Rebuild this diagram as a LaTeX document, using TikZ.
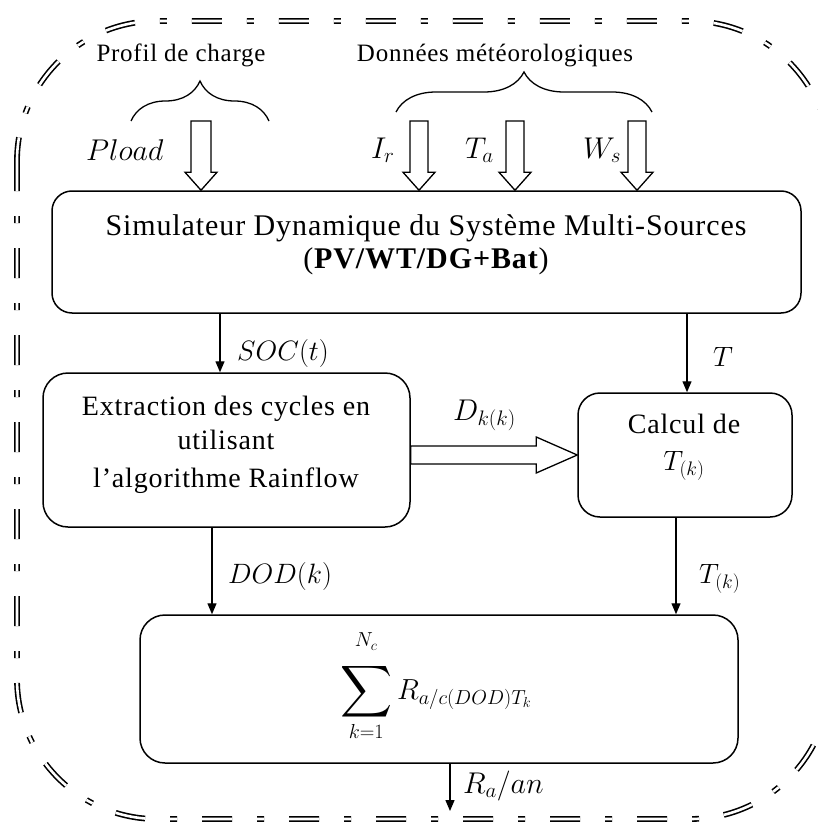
\RequirePackage{fix-cm}
\documentclass[tikz,border=0pt]{standalone}
\usepackage{amsmath}
\usepackage{fontspec}
\setmainfont{Liberation Serif}[LetterSpace=3]
\usetikzlibrary{arrows.meta,calc,decorations.pathreplacing}

% vertical hollow block arrow from #1 down to #2 (shaft half width #3, head half width #4)
\newcommand\vblock[4]{%
  \draw[blockarrow] let \p1=(#1), \p2=(#2) in
    (\x1-#3,\y1) -- (\x1-#3,\y2+18pt) -- (\x1-#4,\y2+18pt) -- (\x1,\y2)
    -- (\x1+#4,\y2+18pt) -- (\x1+#3,\y2+18pt) -- (\x1+#3,\y1) -- cycle;}

\tikzset{
  box/.style={draw, line width=1.5pt, rounded corners=20pt, inner sep=0pt},
  conn/.style={line width=1.3pt, -{Triangle[length=11pt,width=9pt]}},
  blockarrow/.style={draw, line width=1.3pt, fill=white, line join=miter},
  bracket/.style={decorate, decoration={brace, amplitude=40pt, aspect=0.5}, line width=1.3pt},
  txt/.style={anchor=base, inner sep=0pt, font=\fontsize{28}{33}\selectfont},
  bigtxt/.style={anchor=base, inner sep=0pt, font=\fontsize{30}{35}\selectfont},
  smalltxt/.style={anchor=base, inner sep=0pt, font=\fontsize{25}{30}\selectfont},
  mlbl/.style={anchor=base west, inner sep=0pt, font=\fontsize{30}{35}\selectfont},
  slbl/.style={anchor=base west, inner sep=0pt, font=\fontsize{28}{33}\selectfont},
  frame/.style={double, double distance=2.6pt, line width=1.6pt,
    dash pattern=on 30pt off 25pt on 7pt off 25pt, rounded corners=140pt}
}

\begin{document}
\begin{tikzpicture}[x=1pt,y=-1pt]
\useasboundingbox (0,0) rectangle (817,824);
\clip (0,0) rectangle (817,824);

% outer dash-dotted double frame
\draw[frame] (17,21) rectangle (830,819);

% blocks
\node[box, minimum width=749pt, minimum height=122pt] (sim) at (426.5,252) {};
\node[box, rounded corners=25pt, minimum width=367pt, minimum height=154pt] (ext) at (226.5,450) {};
\node[box, rounded corners=22pt, minimum width=214pt, minimum height=124pt] (calc) at (685,455) {};
\node[box, rounded corners=25pt, minimum width=598pt, minimum height=148pt] (sum) at (439,689) {};

% block texts
\node[bigtxt] (simA) at (426,235) {Simulateur Dynamique du Système Multi-Sources};
\node[bigtxt] (simB) at (426,268) {(\textbf{PV/WT/DG+Bat})};
\node[txt] (extA) at (226,415) {Extraction des cycles en};
\node[txt] (extB) at (226,449) {utilisant};
\node[txt] (extC) at (226,487) {l’algorithme Rainflow};
\node[txt] (calcA) at (684,433) {Calcul de};
\node[txt] (calcB) at (684,470) {$T_{(k)}$};
\node[inner sep=0pt, font=\fontsize{29}{34}\selectfont] (sumtxt) at (436,686)
  {$\displaystyle\mathop{\vcenter{\hbox{\scalebox{1.45}{$\displaystyle\sum$}}}}\limits_{k=1}^{\raisebox{11pt}{$\scriptstyle N_c$}} R_{a/c(DOD)T_k}$};

% input headings and braces
\node[smalltxt] (prof) at (181,62) {Profil de charge};
\node[smalltxt] (meteo) at (495,62) {Données météorologiques};
\draw[bracket] (131,121) -- (269,121);
\draw[bracket] (396,112) -- (652,112);

% hollow input arrows
\coordinate (plsrc) at (201,121);
\coordinate (irsrc) at (419,121);
\coordinate (tasrc) at (515,121);
\coordinate (wssrc) at (637,121);
\vblock{plsrc}{plsrc |- sim.north}{10pt}{16pt}
\vblock{irsrc}{irsrc |- sim.north}{9pt}{16pt}
\vblock{tasrc}{tasrc |- sim.north}{9pt}{16pt}
\vblock{wssrc}{wssrc |- sim.north}{9pt}{16pt}

\node[mlbl] (lpl) at (86,160) {$Pload$};
\node[mlbl] (lir) at (371,158) {$I_r$};
\node[mlbl] (lta) at (465,158) {$T_a$};
\node[mlbl] (lws) at (583,158) {$W_s$};

% hollow arrow between extraction and calculation
\draw[blockarrow] let \p1=(ext.east), \p2=(calc.west) in
  (\x1,\y2+9pt) -- (\x2-41pt,\y2+9pt) -- (\x2-41pt,\y2+18pt) -- (\x2,\y2)
  -- (\x2-41pt,\y2-18pt) -- (\x2-41pt,\y2-9pt) -- (\x1,\y2-9pt) -- cycle;
\node[mlbl] (ldk) at (453,420) {$D_{k(k)}$};

% signal connectors
\coordinate (socx) at (220,0);
\coordinate (tx) at (687,0);
\coordinate (dodx) at (212,0);
\coordinate (tkx) at (676,0);
\coordinate (rax) at (450,0);
\coordinate (out) at (450,811);
\draw[conn] (sim.south -| socx) -- (ext.north -| socx);
\draw[conn] (sim.south -| tx) -- (calc.north -| tx);
\draw[conn] (ext.south -| dodx) -- (sum.north -| dodx);
\draw[conn] (calc.south -| tkx) -- (sum.north -| tkx);
\draw[conn] (sum.south -| rax) -- (out);

\node[slbl] (lsoc) at (237,360) {$SOC(t)$};
\node[slbl] (lt) at (713,366) {$T$};
\node[slbl] (ldod) at (228,583) {$DOD(k)$};
\node[slbl] (ltk) at (699,583) {$T_{(k)}$};
\node[mlbl] (lra) at (463,793) {$R_a/an$};
\end{tikzpicture}
\end{document}
